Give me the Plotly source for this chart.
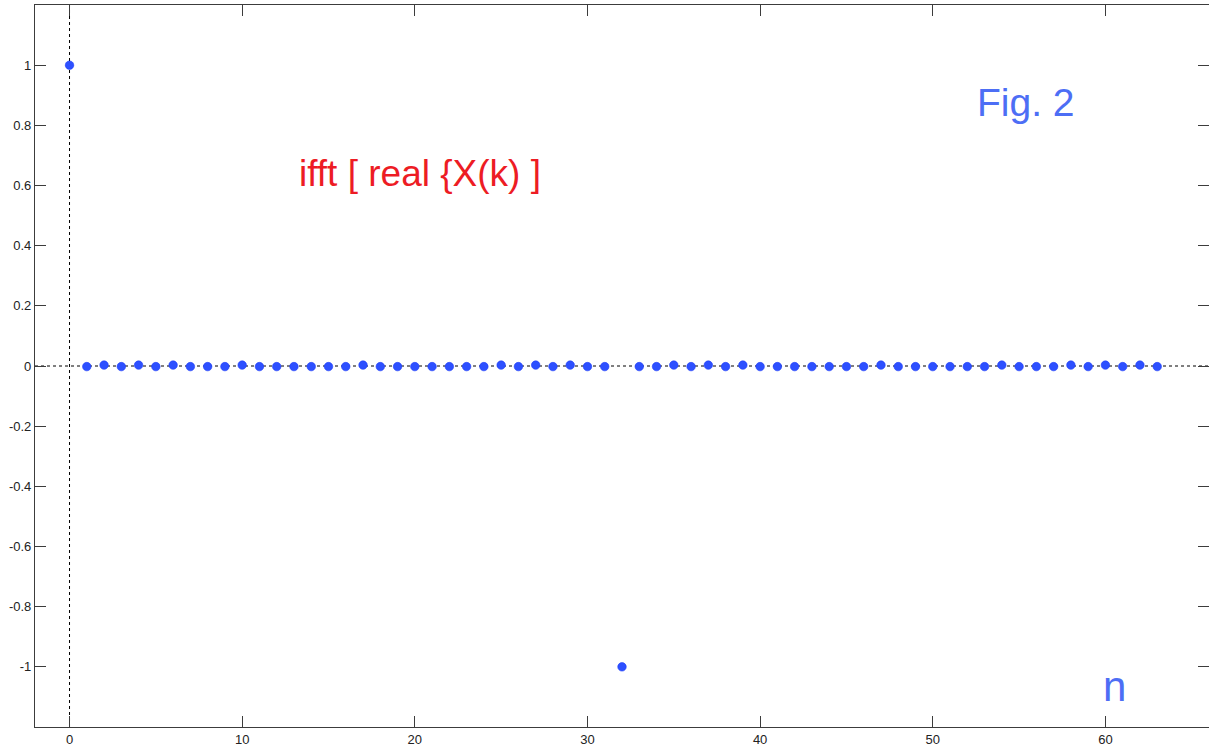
import plotly.graph_objects as go

# Sample index and the real-valued result of ifft(real{X(k)})
n = list(range(64))
up, dn = 0.003, -0.002
x_vals = [
    1.0,                                   # n = 0
    dn, up, dn, up, dn, up, dn, dn, dn, up,  # 1..10
    dn, dn, dn, dn, dn, dn, up, dn, dn, dn,  # 11..20
    dn, dn, dn, dn, up, dn, up, dn, up, dn,  # 21..30
    dn, -1.0,                              # 31, 32
    dn, dn, up, dn, up, dn, up, dn, dn, dn,  # 33..42
    dn, dn, dn, dn, up, dn, dn, dn, dn, dn,  # 43..52
    dn, up, dn, dn, dn, up, dn, up, dn, up,  # 53..62
    dn,                                    # 63
]

x_ticks = [0, 10, 20, 30, 40, 50, 60]
y_ticks = [-1, -0.8, -0.6, -0.4, -0.2, 0, 0.2, 0.4, 0.6, 0.8, 1]
y_tick_text = ["-1", "-0.8", "-0.6", "-0.4", "-0.2", "0", "0.2", "0.4", "0.6", "0.8", "1"]

fig = go.Figure()

# dashed reference axes through the origin
fig.add_shape(type="line", xref="x", yref="y", x0=-2, x1=66, y0=0, y1=0,
              line=dict(color="black", width=1, dash="3px,3px"), layer="below")
fig.add_shape(type="line", xref="x", yref="y", x0=0, x1=0, y0=-1.2, y1=1.2,
              line=dict(color="black", width=1, dash="3px,3px"), layer="below")

fig.add_trace(go.Scatter(
    x=n, y=x_vals, mode="markers",
    marker=dict(size=8.5, color="rgb(45,80,255)",
                line=dict(color="rgb(30,60,250)", width=0.6)),
    showlegend=False, hoverinfo="x+y",
))

axis_common = dict(
    showgrid=False, zeroline=False, showline=True, mirror="ticks",
    linecolor="#3c3c3c", linewidth=1.2,
    ticks="inside", ticklen=11, tickwidth=1, tickcolor="#3c3c3c",
    tickfont=dict(family="Liberation Sans, Arial, sans-serif", size=13, color="#222"),
)

fig.update_xaxes(range=[-2, 66], tickvals=x_ticks, **axis_common)
fig.update_yaxes(range=[-1.2, 1.2], tickvals=y_ticks, ticktext=y_tick_text, **axis_common)

fig.add_annotation(x=20.3, y=0.64, xref="x", yref="y", text="ifft [ real {X(k) ]",
                   showarrow=False, xanchor="center", yanchor="middle",
                   font=dict(family="Liberation Sans, Arial, sans-serif", size=37,
                             color="rgb(237,28,36)"))
fig.add_annotation(x=55.4, y=0.875, xref="x", yref="y", text="Fig. 2",
                   showarrow=False, xanchor="center", yanchor="middle",
                   font=dict(family="Liberation Sans, Arial, sans-serif", size=39,
                             color="rgb(77,110,245)"))
fig.add_annotation(x=60.5, y=-1.065, xref="x", yref="y", text="n",
                   showarrow=False, xanchor="center", yanchor="middle",
                   font=dict(family="Liberation Sans, Arial, sans-serif", size=42,
                             color="rgb(77,110,245)"))

fig.update_layout(
    width=1209, height=749,
    margin=dict(l=35, r=0, t=5, b=22),
    paper_bgcolor="white", plot_bgcolor="white",
)

fig.write_html("out.html")
